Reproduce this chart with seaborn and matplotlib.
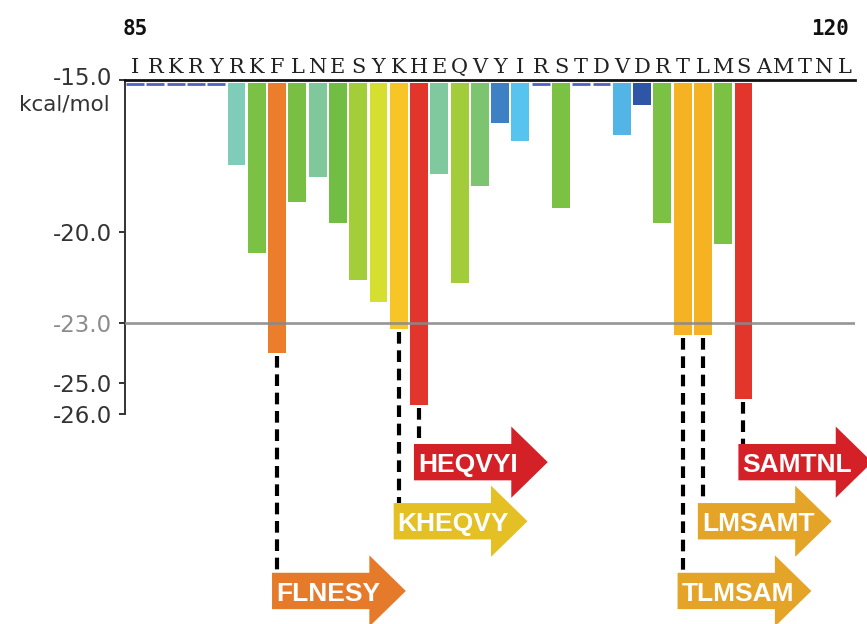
import matplotlib
matplotlib.use("Agg")
import matplotlib.pyplot as plt
import matplotlib.patches as mpatches
from matplotlib.transforms import ScaledTranslation
import seaborn as sns
import pandas as pd

# ---- data -------------------------------------------------------------
sequence = "IRKRYRKFLNESYKHEQVYIRSTDVDRTLMSAMTNL"
first_residue = 85
last_residue = 120

# predicted binding energy (kcal/mol) of the 6-mer starting at each residue
bar_residues = [90, 91, 92, 93, 94, 95, 96, 97, 98, 99, 100, 101, 102,
                103, 104, 106, 109, 110, 111, 112, 113, 114, 115]
bar_energy = [-17.8, -20.7, -24.0, -19.0, -18.2, -19.7, -21.6, -22.3, -23.2,
              -25.7, -18.1, -21.7, -18.5, -16.4, -17.0, -19.2, -16.8, -15.8,
              -19.7, -23.4, -23.4, -20.4, -25.5]
# 6-mers scoring above the -15 kcal/mol floor (drawn as dashes on the top rule)
weak_residues = [85, 86, 87, 88, 89, 105, 107, 108]

threshold = -23.0
y_ticks = [-15.0, -20.0, -23.0, -25.0, -26.0]
peptide_len = 6

# ---- styles -----------------------------------------------------------
bar_colors = ["#7fcdb9", "#7bc143", "#ec7d2b", "#78bf44", "#80c89b", "#72be45",
              "#a3cd39", "#d5df2f", "#f7c526", "#e2352b", "#80c99f", "#a2cc3a",
              "#7cc46f", "#3e80c4", "#57c3ef", "#7bc143", "#53b5e6", "#2f56a6",
              "#7bc143", "#f5b324", "#f5b324", "#7bc143", "#e2352b"]
hit_colors = ["#e67a2b", "#e4c024", "#d42027", "#e3a428", "#e3a428", "#d42027"]
hit_rows = [2, 1, 0, 2, 1, 0]
row_levels = [-27.6, -29.55, -31.85]
body_h, head_w, head_l, arrow_len = 1.2, 2.35, 1.8, 6.6

order = [str(r) for r in range(first_residue, last_residue + 1)]
df = pd.DataFrame({"residue": [str(r) for r in bar_residues],
                   "energy": bar_energy})
palette = dict(zip(df["residue"], bar_colors))
energy_of = dict(zip(bar_residues, bar_energy))
hit_starts = [r for r, e in zip(bar_residues, bar_energy) if e < threshold]

# ---- figure -----------------------------------------------------------
fig = plt.figure(figsize=(8.67, 6.24), dpi=100)
ax = fig.add_axes([125 / 867, 0, 730 / 867, 543.7 / 624])

sns.barplot(data=df, x="residue", y="energy", hue="residue", palette=palette,
            order=order, width=0.88, saturation=1, legend=False, ax=ax,
            zorder=2)

ax.set_xlim(-0.5, len(order) - 0.5)
ax.set_ylim(-32.94, -15.0)

# thin white gap between the top rule and the bars
ax.axhspan(-15.09, -15.0, color="white", lw=0, zorder=2.5)

# dashes for off-scale peptides
xs = [order.index(str(r)) for r in weak_residues]
ax.hlines([-15.13] * len(xs), [x - 0.44 for x in xs], [x + 0.44 for x in xs],
          colors="#4f62c2", lw=2, zorder=3)

# threshold line
ax.axhline(threshold, color="#8a8a8a", lw=1.9, alpha=0.9, zorder=3)

# sequence along the top
ax.xaxis.tick_top()
ax.set_xticks(range(len(order)))
ax.set_xticklabels(list(sequence), fontfamily="DejaVu Serif", fontsize=15,
                   color="#222222")
ax.tick_params(axis="x", length=0, pad=2.5)
ax.set_xlabel("")
ax.set_ylabel("")

ax.set_yticks(y_ticks)
ax.set_yticklabels([f"{v:.1f}" for v in y_ticks], fontsize=16.5,
                   color="#333333")
ax.tick_params(axis="y", length=4, width=1.4, color="#333333", pad=5)
for v, lab in zip(y_ticks, ax.get_yticklabels()):
    if v == threshold:
        lab.set_color("#8c8c8c")
    if v == -15.0:
        lab.set_transform(lab.get_transform() +
                          ScaledTranslation(0, 0.04, fig.dpi_scale_trans))

for side in ("right", "bottom"):
    ax.spines[side].set_visible(False)
ax.spines["top"].set_linewidth(2)
ax.spines["top"].set_color("#111111")
ax.spines["left"].set_bounds(-26.0, -15.0)
ax.spines["left"].set_linewidth(1.4)
ax.spines["left"].set_color("#333333")

fig.text(110 / 867, 1 - 105 / 624, "kcal/mol", ha="right", va="center",
         fontsize=15.5, color="#333333")

ax.annotate(str(first_residue), xy=(0, 1), xycoords=("data", "axes fraction"),
            xytext=(0, 37), textcoords="offset points", ha="center",
            va="center", fontsize=15, family="DejaVu Sans Mono",
            fontweight="bold", color="#111111")
ax.annotate(str(last_residue), xy=(len(order) - 1, 1),
            xycoords=("data", "axes fraction"), xytext=(3, 37),
            textcoords="offset points", ha="right", va="center", fontsize=15,
            family="DejaVu Sans Mono", fontweight="bold", color="#111111")

# peptides below the threshold: dashed leader + labelled arrow
for start, row, color in zip(hit_starts, hit_rows, hit_colors):
    i = order.index(str(start))
    yc = row_levels[row]
    ax.plot([i, i], [energy_of[start] - 0.1, yc + body_h / 2], color="black",
            lw=3, dashes=(2.8, 1.6), dash_capstyle="butt", zorder=4)
    ax.add_patch(mpatches.FancyArrow(i - 0.25, yc, arrow_len, 0, width=body_h,
                                     head_width=head_w, head_length=head_l,
                                     length_includes_head=True, color=color,
                                     lw=0, clip_on=False, zorder=5))
    k = start - first_residue
    ax.text(i - 0.05, yc - 0.09, sequence[k:k + peptide_len], color="white",
            fontsize=19, fontweight="bold", family="Liberation Sans",
            ha="left", va="center", zorder=6, clip_on=False)

fig.savefig("out.png", dpi=100)
